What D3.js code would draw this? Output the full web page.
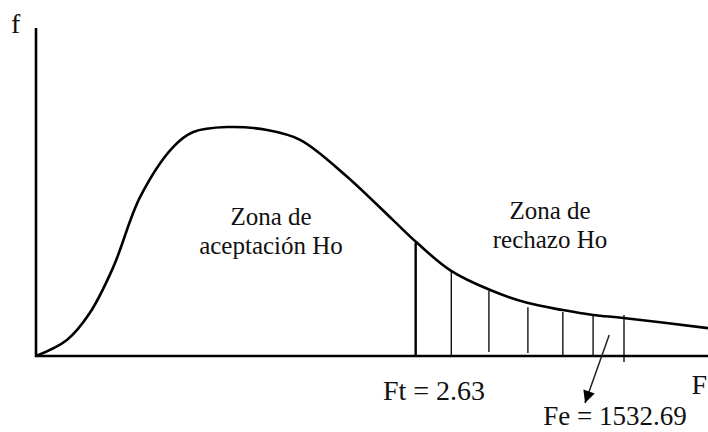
<!DOCTYPE html>
<html>
<head>
<meta charset="utf-8">
<script src="https://cdnjs.cloudflare.com/ajax/libs/d3/7.8.5/d3.min.js"></script>
<style>
  html, body { margin: 0; padding: 0; background: #fff; }
  svg { display: block; }
</style>
</head>
<body>
<svg id="chart"></svg>
<script>
// F distribution sketch (arbitrary units 0-100)
var curveX = [0, 4.6, 8.0, 11.5, 15.5, 20.4, 23.4, 28.4, 34.4, 39.3, 46.0, 53.1, 56.7, 61.6, 67.6, 73.1, 78.4, 82.9, 87.4, 100];
var curveY = [0, 4.9, 13.1, 27.1, 48.5, 63.7, 68.3, 69.8, 68.9, 65.9, 55.2, 41.5, 34.5, 26.2, 20.1, 16.2, 14.0, 12.5, 11.6, 8.5];

// hatch lines in the rejection zone
var hatchX = [56.5, 61.8, 67.4, 73.2, 78.4, 82.9, 87.5];
var hatchTop = [34.5, 25.6, 19.8, 14.9, 13.4, 12.8, 12.5];
var hatchBottom = [0, 0, 1.2, 0.9, 0, 0, -1.8];

var zoneAccept = ["Zona de", "aceptación Ho"];
var zoneReject = ["Zona de", "rechazo Ho"];
var ftLabel = "Ft = 2.63";
var feLabel = "Fe = 1532.69";

var width = 708, height = 432;
var margin = { top: 28, right: 0, bottom: 76, left: 36 };
var serif = "'Liberation Serif', 'DejaVu Serif', 'Times New Roman', serif";

var svg = d3.select("#chart")
    .attr("width", width)
    .attr("height", height)
    .style("font-family", serif);

var x = d3.scaleLinear().domain([0, 100]).range([margin.left, width - margin.right]);
var y = d3.scaleLinear().domain([0, 100]).range([height - margin.bottom, margin.top]);

// axes
svg.append("line")
    .attr("x1", x(0)).attr("y1", y(0) + 1)
    .attr("x2", x(0)).attr("y2", y(100))
    .attr("stroke", "#000").attr("stroke-width", 2.6);
svg.append("line")
    .attr("x1", x(0) - 1).attr("y1", y(0))
    .attr("x2", x(100)).attr("y2", y(0))
    .attr("stroke", "#000").attr("stroke-width", 2.6);

// hatch
svg.selectAll(".hatch")
    .data(hatchX)
    .enter()
    .append("line")
    .attr("class", "hatch")
    .attr("x1", function (d) { return x(d); })
    .attr("x2", function (d) { return x(d); })
    .attr("y1", function (d, i) { return y(hatchBottom[i]); })
    .attr("y2", function (d, i) { return y(hatchTop[i]); })
    .attr("stroke", "#000")
    .attr("stroke-width", function (d, i) { return i == 0 ? 2.4 : 1.3; });

// curve
var pts = curveX.map(function (d, i) { return [d, curveY[i]]; });
var line = d3.line()
    .x(function (d) { return x(d[0]); })
    .y(function (d) { return y(d[1]); })
    .curve(d3.curveCatmullRom.alpha(0.5));
svg.append("path")
    .datum(pts)
    .attr("d", line)
    .attr("fill", "none")
    .attr("stroke", "#000")
    .attr("stroke-width", 2.6);

// arrow pointing at Fe
svg.append("defs").append("marker")
    .attr("id", "head")
    .attr("viewBox", "0 0 10 10")
    .attr("refX", 10).attr("refY", 5)
    .attr("markerWidth", 14).attr("markerHeight", 12)
    .attr("markerUnits", "userSpaceOnUse")
    .attr("orient", "auto")
    .append("path")
    .attr("d", "M0,0 L10,5 L0,10 Z")
    .attr("fill", "#000");
svg.append("line")
    .attr("x1", x(85.3)).attr("y1", y(6.4))
    .attr("x2", x(81.7)).attr("y2", y(-14.3))
    .attr("stroke", "#222").attr("stroke-width", 1.5)
    .attr("marker-end", "url(#head)");

// texts
function block(lines, cx, by, size) {
    var t = svg.append("text")
        .attr("text-anchor", "middle")
        .attr("font-family", serif)
        .attr("font-size", size)
        .attr("fill", "#111");
    lines.forEach(function (s, i) {
        t.append("tspan").attr("x", cx).attr("y", by + i * 29).text(s);
    });
}
block(zoneAccept, 271, 225, 25);
block(zoneReject, 550, 219, 25);

function label(s, lx, ly, size, anchor) {
    svg.append("text")
        .attr("x", lx).attr("y", ly)
        .attr("text-anchor", anchor || "start")
        .attr("font-family", serif)
        .attr("font-size", size)
        .attr("fill", "#111")
        .text(s);
}
label(ftLabel, 434, 400, 28, "middle");
label(feLabel, 615, 425, 27, "middle");
label("F", 707, 394, 28, "end");
label("f", 11, 33, 28);
</script>
</body>
</html>
